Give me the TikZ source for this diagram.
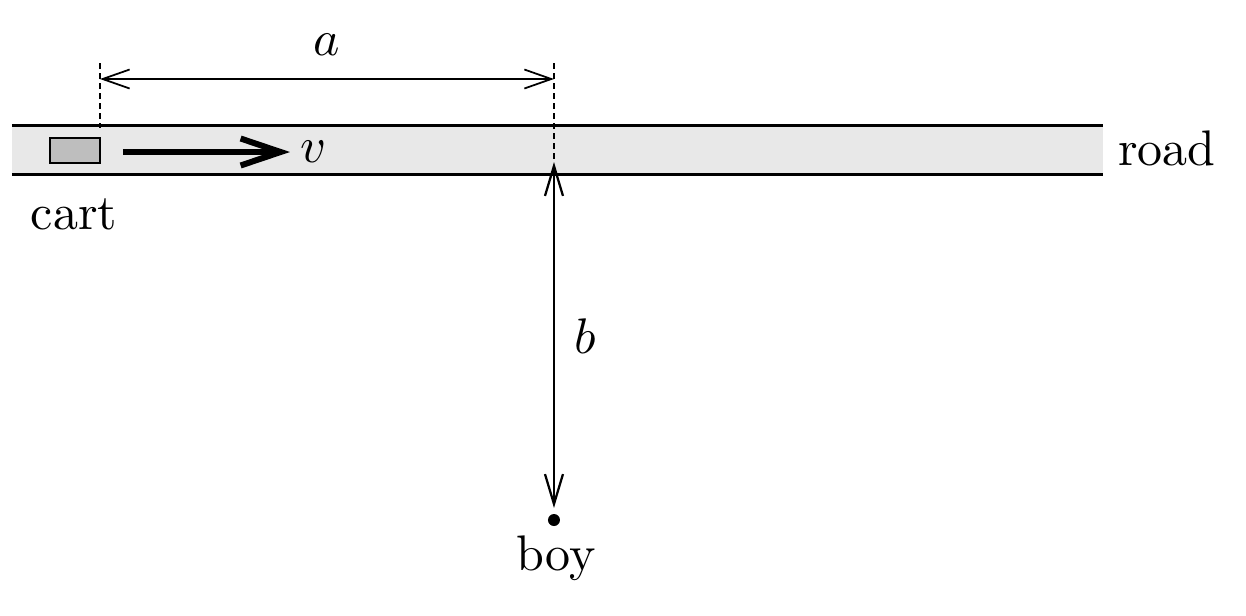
\documentclass[tikz,border=0pt]{standalone}
\usetikzlibrary{arrows.meta}
\definecolor{roadfill}{RGB}{232,232,232}
\definecolor{cartfill}{RGB}{190,190,190}
\begin{document}
\begin{tikzpicture}[x=0.2pt,y=-0.2pt,
  lbl/.style={inner sep=0pt,outer sep=0pt},
  roadline/.style={line width=0.6pt},
  dimline/.style={line width=0.35pt,{Straight Barb[length=5.4pt,width=3.8pt]}-{Straight Barb[length=5.4pt,width=3.8pt]}},
  guide/.style={line width=0.4pt,dash pattern=on 1.2pt off 0.8pt},
  velarrow/.style={line width=1.2pt,-{Straight Barb[length=8pt,width=5.4pt,line width=1.2pt]}},
  distarrow/.style={line width=0.45pt,{Straight Barb[length=6pt,width=3.6pt]}-{Straight Barb[length=6pt,width=3.6pt]}}
]
\useasboundingbox (0,0) rectangle (1246,616);
% road
\fill[roadfill] (12,125) rectangle (1103,174);
\coordinate (rtl) at (12,125);
\coordinate (rtr) at (1103,125);
\coordinate (rbl) at (12,174);
\coordinate (rbr) at (1103,174);
\draw[roadline] (rtl) -- (rtr);
\draw[roadline] (rbl) -- (rbr);
% cart
\node[draw,fill=cartfill,line width=0.3pt,minimum width=10pt,minimum height=5pt,inner sep=0pt] (cartbox) at (75,150.5) {};
% guide lines
\coordinate (gLtop) at (100,63);
\coordinate (gLbot) at (100,128);
\coordinate (gRtop) at (554,63);
\coordinate (gRbot) at (554,163);
\draw[guide] (gLtop) -- (gLbot);
\draw[guide,line width=0.5pt] (gRtop) -- (gRbot);
% dimension a
\coordinate (aL) at (100,79);
\coordinate (aR) at (554,79);
\draw[dimline] (aL) -- (aR);
\node[lbl] (alabel) at (327,45) {$a$};
% velocity
\coordinate (vS) at (123,152);
\coordinate (vE) at (290,152);
\draw[velarrow] (vS) -- (vE);
\node[lbl] (vlabel) at (314,152) {$v$};
% boy
\node[circle,fill=black,inner sep=0pt,minimum size=2.4pt] (boydot) at (554,520) {};
\coordinate (bTop) at (554,162);
\coordinate (bBot) at (554,508);
\draw[distarrow] (bTop) -- (bBot);
\node[lbl] (blabel) at (585,336) {$b$};
% labels
\node[lbl] (boylabel) at (556,558) {boy};
\node[lbl] (cartlabel) at (74,214) {cart};
\node[lbl] (roadlabel) at (1167,148) {road};
\end{tikzpicture}
\end{document}
